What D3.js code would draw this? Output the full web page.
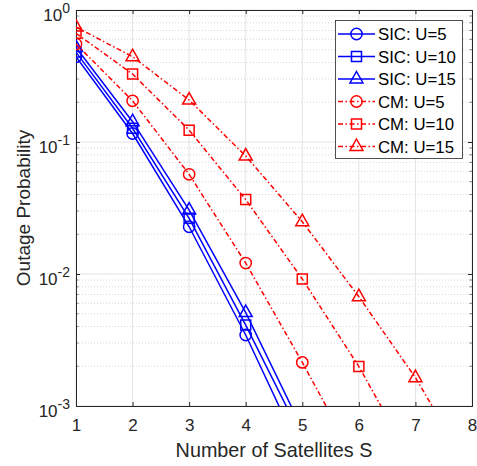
<!DOCTYPE html>
<html>
<head>
<meta charset="utf-8">
<script src="https://cdn.jsdelivr.net/npm/d3@7"></script>
<style>
  html, body { margin: 0; padding: 0; background: #fff; }
  svg { display: block; font-family: "Liberation Sans", Arial, Helvetica, sans-serif; }
</style>
</head>
<body>
<svg id="chart" width="477" height="466"></svg>
<script>
// Number of satellites on the x axis
const satellites = [1, 2, 3, 4, 5, 6, 7, 8];
const xTicks = [1, 2, 3, 4, 5, 6, 7, 8];
const yTickExponents = [0, -1, -2, -3];

// Outage probability per scheme and user count
const sicU5  = [0.443, 0.116, 0.0228, 0.00345, 0.00042];
const sicU10 = [0.48, 0.127, 0.0264, 0.0041, 0.00057];
const sicU15 = [0.52, 0.1425, 0.0305, 0.0051, 0.00067];
const cmU5   = [0.553, 0.205, 0.0569, 0.0121, 0.00214, 0.00035];
const cmU10  = [0.666, 0.327, 0.123, 0.0366, 0.00917, 0.00199, 0.00034];
const cmU15  = [0.743, 0.443, 0.208, 0.0783, 0.0249, 0.00673, 0.00164, 0.00031];

const seriesNames = ["SIC: U=5", "SIC: U=10", "SIC: U=15", "CM: U=5", "CM: U=10", "CM: U=15"];
const seriesValues = [sicU5, sicU10, sicU15, cmU5, cmU10, cmU15];
const seriesMarkers = ["circle", "square", "triangle", "circle", "square", "triangle"];
const seriesColors = ["#0000ff", "#0000ff", "#0000ff", "#ff0000", "#ff0000", "#ff0000"];
const seriesDashed = [false, false, false, true, true, true];

const svg = d3.select("#chart");
const plotL = 76, plotR = 472, plotT = 10, plotB = 406;
const ink = "#262626";
const dashDot = "5,2.5,1.5,2.5";

const x = d3.scaleLinear().domain([1, 8]).range([plotL, plotR]);
const y = d3.scaleLog().domain([1e-3, 1]).range([plotB, plotT]);

// Minor grid (dotted) for the log axis
const minorVals = [];
for (let e = -3; e < 0; e++) for (let m = 2; m <= 9; m++) minorVals.push(m * Math.pow(10, e));
const yMajor = yTickExponents.map(e => Math.pow(10, e));

const grid = svg.append("g");
grid.append("g").selectAll("line").data(minorVals).join("line")
  .attr("x1", plotL).attr("x2", plotR)
  .attr("y1", d => y(d)).attr("y2", d => y(d))
  .attr("stroke", "#bdbdbd").attr("stroke-width", 0.6)
  .attr("stroke-dasharray", "1,2");
grid.append("g").selectAll("line").data(yMajor).join("line")
  .attr("x1", plotL).attr("x2", plotR)
  .attr("y1", d => y(d)).attr("y2", d => y(d))
  .attr("stroke", "#e3e3e3").attr("stroke-width", 1);
grid.append("g").selectAll("line").data(xTicks).join("line")
  .attr("x1", d => x(d)).attr("x2", d => x(d))
  .attr("y1", plotT).attr("y2", plotB)
  .attr("stroke", "#e3e3e3").attr("stroke-width", 1);

// Axes with inward ticks
const xAxis = d3.axisBottom(x).tickValues(xTicks).tickSize(-4).tickPadding(12.5).tickFormat(d3.format("d"));
const gx = svg.append("g").attr("transform", `translate(0,${plotB})`).call(xAxis);
gx.select(".domain").attr("stroke", ink);
gx.selectAll(".tick line").attr("stroke", ink);
gx.selectAll("text").attr("fill", ink).attr("font-size", 17)
  .attr("font-family", "Liberation Sans, Arial, sans-serif");

const gxTop = svg.append("g").attr("transform", `translate(0,${plotT})`)
  .call(d3.axisTop(x).tickValues(xTicks).tickSize(-4).tickFormat(""));
gxTop.select(".domain").attr("stroke", ink);
gxTop.selectAll(".tick line").attr("stroke", ink);

const yAxis = d3.axisLeft(y).tickValues(yMajor).tickSize(-4).tickFormat(() => "");
const gy = svg.append("g").attr("transform", `translate(${plotL},0)`).call(yAxis);
gy.select(".domain").attr("stroke", ink);
gy.selectAll(".tick line").attr("stroke", ink);
gy.selectAll(".tick text").remove();
gy.selectAll(".tick").append("text")
  .attr("x", -6).attr("y", 10)
  .attr("text-anchor", "end").attr("fill", ink)
  .attr("font-family", "Liberation Sans, Arial, sans-serif")
  .each(function (d) {
    const t = d3.select(this);
    t.append("tspan").attr("font-size", 17).text("10");
    t.append("tspan").attr("font-size", 14).attr("dy", -7.5).text(Math.round(Math.log10(d)));
  });
// minor ticks on the left and right
svg.append("g").selectAll("line").data(minorVals).join("line")
  .attr("x1", plotL).attr("x2", plotL + 2.5)
  .attr("y1", d => y(d)).attr("y2", d => y(d))
  .attr("stroke", ink).attr("stroke-width", 0.6);
svg.append("g").selectAll("line").data(minorVals).join("line")
  .attr("x1", plotR).attr("x2", plotR - 2.5)
  .attr("y1", d => y(d)).attr("y2", d => y(d))
  .attr("stroke", ink).attr("stroke-width", 0.6);

const gyRight = svg.append("g").attr("transform", `translate(${plotR},0)`)
  .call(d3.axisRight(y).tickValues(yMajor).tickSize(-4).tickFormat(""));
gyRight.select(".domain").attr("stroke", ink);
gyRight.selectAll(".tick line").attr("stroke", ink);

// Axis titles
svg.append("text").attr("x", (plotL + plotR) / 2).attr("y", 457)
  .attr("text-anchor", "middle").attr("font-size", 19.8).attr("fill", ink)
  .text("Number of Satellites S");
svg.append("text").attr("transform", `translate(30,208) rotate(-90)`)
  .attr("text-anchor", "middle").attr("font-size", 19).attr("fill", ink)
  .text("Outage Probability");

// Plot region clip
svg.append("defs").append("clipPath").attr("id", "plotClip")
  .append("rect").attr("x", plotL).attr("y", plotT).attr("width", plotR - plotL).attr("height", plotB - plotT);

const markerPath = (kind) => {
  if (kind === "circle") return d3.symbol(d3.symbolCircle, 100)();
  if (kind === "square") return "M-5,-5H5V5H-5Z";
  return "M0,-7.5L6.5,4L-6.5,4Z";
};

const line = d3.line().x(d => x(d[0])).y(d => y(d[1]));
const plot = svg.append("g").attr("clip-path", "url(#plotClip)");

seriesValues.forEach((vals, i) => {
  const pts = vals.map((v, j) => [satellites[j], v]);
  plot.append("path").datum(pts)
    .attr("d", line).attr("fill", "none")
    .attr("stroke", seriesColors[i]).attr("stroke-width", 1.5)
    .attr("stroke-dasharray", seriesDashed[i] ? dashDot : null);
  plot.append("g").selectAll("path").data(pts).join("path")
    .attr("transform", d => `translate(${x(d[0])},${y(d[1])})`)
    .attr("d", markerPath(seriesMarkers[i]))
    .attr("fill", "none").attr("stroke", seriesColors[i]).attr("stroke-width", 1.5);
});

// Legend
const lg = svg.append("g");
lg.append("rect").attr("x", 335.5).attr("y", 20.5).attr("width", 127).attr("height", 138)
  .attr("fill", "#fff").attr("stroke", ink).attr("stroke-width", 0.8);
seriesNames.forEach((name, i) => {
  const cy = 34 + i * 22.5;
  lg.append("line").attr("x1", 338).attr("x2", 375).attr("y1", cy).attr("y2", cy)
    .attr("stroke", seriesColors[i]).attr("stroke-width", 1.5)
    .attr("stroke-dasharray", seriesDashed[i] ? dashDot : null);
  lg.append("path").attr("transform", `translate(356.5,${cy})`)
    .attr("d", markerPath(seriesMarkers[i]))
    .attr("fill", "none").attr("stroke", seriesColors[i]).attr("stroke-width", 1.5);
  lg.append("text").attr("x", 378).attr("y", cy).attr("dy", "0.36em")
    .attr("font-size", 16.8).attr("fill", "#000").text(name);
});
</script>
</body>
</html>
